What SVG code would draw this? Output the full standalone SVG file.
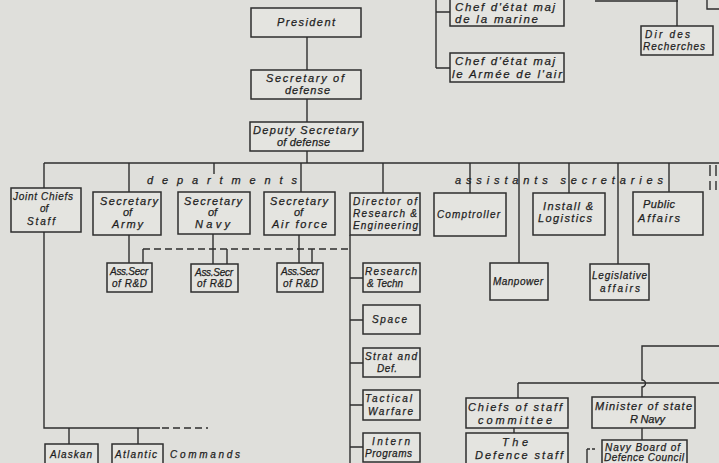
<svg xmlns="http://www.w3.org/2000/svg" width="719" height="463" viewBox="0 0 719 463">
<style>
.bg{fill:#dfdfdb}
.box{fill:#e4e4e0;stroke:#2e2e2e;stroke-width:1.5}
.ln{fill:none;stroke:#2e2e2e;stroke-width:1.4}
.dash{fill:none;stroke:#2e2e2e;stroke-width:1.4;stroke-dasharray:7 4}
text{font-family:"Liberation Sans","DejaVu Sans",sans-serif;font-style:italic;font-size:11px;fill:#1e1e1e;text-anchor:start;stroke:#1e1e1e;stroke-width:0.25}
.sm{font-size:10px}
.lg{font-size:11.5px}
</style>
<rect class="bg" x="0" y="0" width="719" height="463"/>

<g id="connectors">
  <path class="ln" d="M307 37V70M307 99V122M307 151V163"/>
  <path class="ln" d="M44 163H719"/>
  <path class="ln" d="M44 163V188M44 232V428H160M69 428V444M138 428V444"/>
  <path class="dash" d="M162 428H208"/>
  <path class="ln" d="M129 163V192M214 163V174M301 163V192"/>
  <path class="ln" d="M129 235V263M213 234V264M299 235V263"/>
  <path class="dash" d="M143 249H350"/>
  <path class="ln" d="M143 249V263M227 249V264M312 249V263"/>
  <path class="ln" d="M383 163V193M350 235V463M350 278H363M350 320H363M350 363H363M350 405H363M350 447H363"/>
  <path class="ln" d="M470 163V193M519 163V263M569 163V193M618 163V264M669 163V192"/>
  <path class="ln" d="M710 165V176M710 181V190M716 165V176M716 181V190"/>
  <path class="ln" d="M436 0V68M436 12H450M436 68H450"/>
  <path class="ln" d="M677 0V26M595 1H678M707 0V9H719"/>
  <path class="ln" d="M719 346H642V380a3.5 3.5 0 0 1 0 7V397M642 428V440"/>
  <path class="ln" d="M518 383H719M518 383V398M514 428V433"/>
  <path class="ln" d="M587 463V449"/>
  <path class="ln" d="M587 449H596" stroke-dasharray="3 2"/>
</g>

<g id="president"><rect class="box" x="251" y="8" width="110" height="29"/><text x="277" y="26" textLength="58" lengthAdjust="spacing">President</text></g>
<g id="secdef"><rect class="box" x="251" y="70" width="110" height="29"/><text x="266" y="82" textLength="78" lengthAdjust="spacing">Secretary of</text><text x="285" y="94" textLength="45" lengthAdjust="spacing">defense</text></g>
<g id="depsec"><rect class="box" x="250" y="122" width="113" height="29"/><text x="253" y="134" textLength="105" lengthAdjust="spacing">Deputy Secretary</text><text x="277" y="146" textLength="53" lengthAdjust="spacing">of defense</text></g>

<g id="chef-marine"><rect class="box" x="450" y="-2" width="114" height="28"/><text x="455" y="11" class="lg" textLength="100" lengthAdjust="spacing">Chef d'état maj</text><text x="455" y="23" class="lg" textLength="83" lengthAdjust="spacing">de la marine</text></g>
<g id="chef-air"><rect class="box" x="450" y="53" width="114" height="29"/><text x="455" y="65" class="lg" textLength="100" lengthAdjust="spacing">Chef d'état maj</text><text x="452" y="78" class="lg" textLength="110" lengthAdjust="spacing">le Armée de l'air</text></g>
<g id="dir-recherches"><rect class="box" x="641" y="26" width="72" height="29"/><text x="645" y="38" class="sm" textLength="45" lengthAdjust="spacing">Dir des</text><text x="643" y="50" class="sm" textLength="62" lengthAdjust="spacing">Recherches</text></g>

<g id="departments-label"><text x="147" y="184" textLength="150" lengthAdjust="spacing">departments</text></g>
<g id="assistants-label"><text x="455" y="184" textLength="208" lengthAdjust="spacing">assistants secretaries</text></g>

<g id="joint-chiefs"><rect class="box" x="11" y="188" width="70" height="44"/><text x="13" y="200" class="sm" textLength="60" lengthAdjust="spacing">Joint Chiefs</text><text x="40" y="212" class="sm">of</text><text x="27" y="225" class="sm" textLength="28" lengthAdjust="spacing">Staff</text></g>
<g id="sec-army"><rect class="box" x="93" y="192" width="68" height="43"/><text x="100" y="205" textLength="58" lengthAdjust="spacing">Secretary</text><text x="123" y="216">of</text><text x="112" y="228" textLength="31" lengthAdjust="spacing">Army</text></g>
<g id="sec-navy"><rect class="box" x="178" y="192" width="72" height="42"/><text x="184" y="205" textLength="58" lengthAdjust="spacing">Secretary</text><text x="208" y="216">of</text><text x="195" y="228" textLength="35" lengthAdjust="spacing">Navy</text></g>
<g id="sec-af"><rect class="box" x="264" y="192" width="71" height="43"/><text x="270" y="205" textLength="58" lengthAdjust="spacing">Secretary</text><text x="294" y="216">of</text><text x="272" y="228" textLength="55" lengthAdjust="spacing">Air force</text></g>

<g id="ass-army"><rect class="box" x="107" y="263" width="45" height="29"/><text x="110" y="275" class="sm" textLength="38" lengthAdjust="spacing">Ass.Secr</text><text x="112" y="287" class="sm" textLength="35" lengthAdjust="spacing">of R&amp;D</text></g>
<g id="ass-navy"><rect class="box" x="191" y="264" width="47" height="28"/><text x="195" y="276" class="sm" textLength="38" lengthAdjust="spacing">Ass.Secr</text><text x="197" y="287" class="sm" textLength="35" lengthAdjust="spacing">of R&amp;D</text></g>
<g id="ass-af"><rect class="box" x="277" y="263" width="46" height="29"/><text x="281" y="275" class="sm" textLength="38" lengthAdjust="spacing">Ass.Secr</text><text x="283" y="287" class="sm" textLength="35" lengthAdjust="spacing">of R&amp;D</text></g>

<g id="dir-re"><rect class="box" x="350" y="193" width="70" height="42"/><text x="353" y="205" class="sm" textLength="64" lengthAdjust="spacing">Director of</text><text x="353" y="217" class="sm" textLength="64" lengthAdjust="spacing">Research &amp;</text><text x="353" y="229" class="sm" textLength="65" lengthAdjust="spacing">Engineering</text></g>
<g id="res-techn"><rect class="box" x="363" y="263" width="57" height="29"/><text x="365" y="275" class="sm" textLength="52" lengthAdjust="spacing">Research</text><text x="367" y="287" class="sm" textLength="36" lengthAdjust="spacing">&amp; Techn</text></g>
<g id="space"><rect class="box" x="363" y="305" width="57" height="29"/><text x="372" y="323" class="sm" textLength="35" lengthAdjust="spacing">Space</text></g>
<g id="strat"><rect class="box" x="363" y="348" width="57" height="29"/><text x="365" y="360" class="sm" textLength="52" lengthAdjust="spacing">Strat and</text><text x="377" y="372" class="sm" textLength="20" lengthAdjust="spacing">Def.</text></g>
<g id="tactical"><rect class="box" x="363" y="390" width="57" height="30"/><text x="365" y="402" class="sm" textLength="47" lengthAdjust="spacing">Tactical</text><text x="368" y="415" class="sm" textLength="45" lengthAdjust="spacing">Warfare</text></g>
<g id="intern"><rect class="box" x="363" y="433" width="57" height="29"/><text x="372" y="445" class="sm" textLength="38" lengthAdjust="spacing">Intern</text><text x="365" y="457" class="sm" textLength="47" lengthAdjust="spacing">Programs</text></g>

<g id="comptroller"><rect class="box" x="434" y="193" width="72" height="43"/><text x="437" y="218" class="sm" textLength="63" lengthAdjust="spacing">Comptroller</text></g>
<g id="manpower"><rect class="box" x="490" y="263" width="58" height="37"/><text x="493" y="285" class="sm" textLength="50" lengthAdjust="spacing">Manpower</text></g>
<g id="install"><rect class="box" x="533" y="193" width="72" height="42"/><text x="543" y="210" textLength="50" lengthAdjust="spacing">Install &amp;</text><text x="538" y="222" textLength="54" lengthAdjust="spacing">Logistics</text></g>
<g id="legislative"><rect class="box" x="590" y="264" width="59" height="36"/><text x="592" y="279" class="sm" textLength="55" lengthAdjust="spacing">Legislative</text><text x="600" y="292" class="sm" textLength="40" lengthAdjust="spacing">affairs</text></g>
<g id="public"><rect class="box" x="633" y="192" width="70" height="43"/><text x="643" y="208" textLength="32" lengthAdjust="spacing">Public</text><text x="638" y="222" textLength="42" lengthAdjust="spacing">Affairs</text></g>

<g id="alaskan"><rect class="box" x="45" y="444" width="53" height="25"/><text x="50" y="458" class="sm" textLength="42" lengthAdjust="spacing">Alaskan</text></g>
<g id="atlantic"><rect class="box" x="112" y="444" width="51" height="25"/><text x="115" y="458" class="sm" textLength="42" lengthAdjust="spacing">Atlantic</text></g>
<g id="commands-label"><text x="170" y="458" class="sm" textLength="70" lengthAdjust="spacing">Commands</text></g>

<g id="chiefs-committee"><rect class="box" x="466" y="398" width="102" height="30"/><text x="468" y="411" textLength="94" lengthAdjust="spacing">Chiefs of staff</text><text x="478" y="424" textLength="74" lengthAdjust="spacing">committee</text></g>
<g id="defence-staff"><rect class="box" x="466" y="433" width="102" height="35"/><text x="502" y="446" textLength="26" lengthAdjust="spacing">The</text><text x="475" y="459" textLength="88" lengthAdjust="spacing">Defence staff</text></g>
<g id="minister"><rect class="box" x="592" y="397" width="103" height="31"/><text x="595" y="410" textLength="97" lengthAdjust="spacing">Minister of state</text><text x="630" y="423" textLength="35" lengthAdjust="spacing">R Navy</text></g>
<g id="navy-board"><rect class="box" x="602" y="440" width="85" height="28"/><text x="605" y="451" class="sm" textLength="75" lengthAdjust="spacing">Navy Board of</text><text x="604" y="461" class="sm" textLength="80" lengthAdjust="spacing">Defence Council</text></g>
</svg>
